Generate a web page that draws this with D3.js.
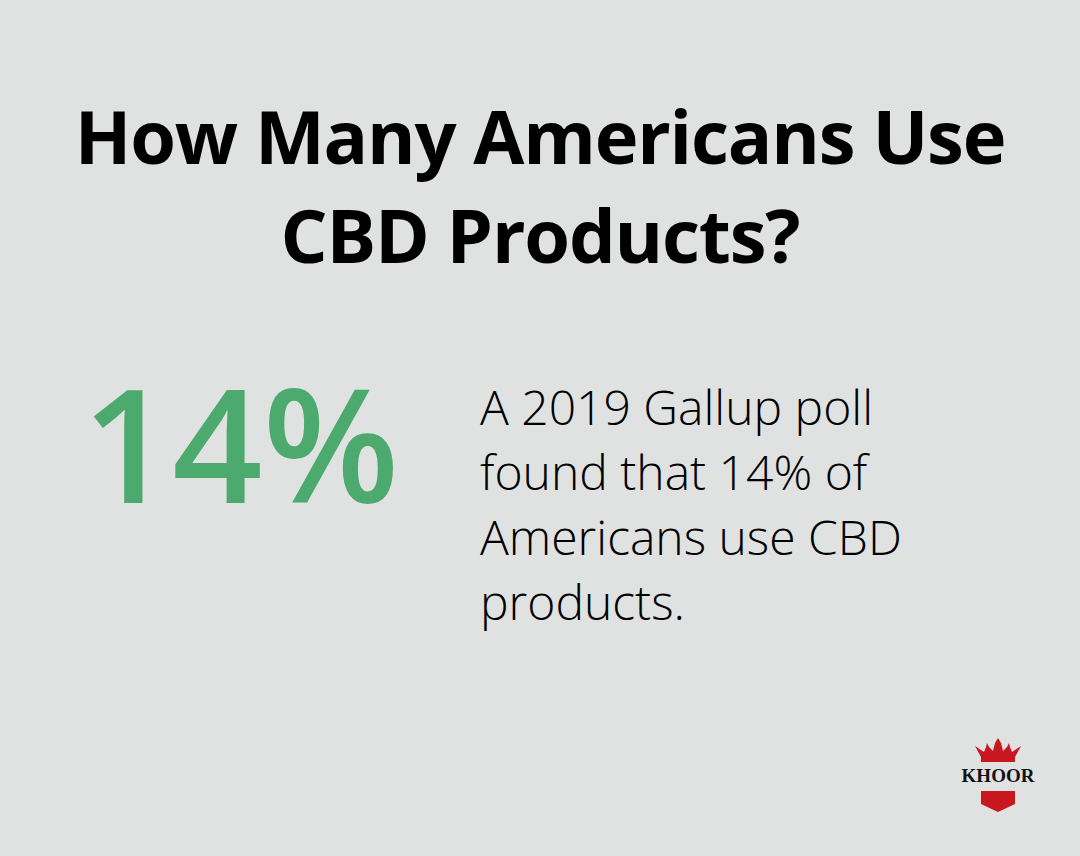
<!DOCTYPE html>
<html>
<head>
<meta charset="utf-8">
<script src="https://cdn.jsdelivr.net/npm/d3@7"></script>
<style>
  html, body { margin: 0; padding: 0; background: #e0e2e1; }
  svg { display: block; }
</style>
</head>
<body>
<div id="chart"></div>
<script>
// Content of the card
const titleLines = ["How Many Americans Use", "CBD Products?"];
const statValue = 14;
const statSuffix = "%";
const bodyLines = ["A 2019 Gallup poll", "found that 14% of", "Americans use CBD", "products."];
const brandName = "KHOOR";

const width = 1080, height = 856;

const svg = d3.select("#chart")
    .append("svg")
    .attr("width", width)
    .attr("height", height);

svg.append("rect")
    .attr("width", width)
    .attr("height", height)
    .attr("fill", "#e0e2e1");

// Title
const titleY = d3.scalePoint().domain(d3.range(titleLines.length)).range([164, 263]);
svg.append("g").selectAll("text")
    .data(titleLines)
    .join("text")
    .attr("x", width / 2)
    .attr("y", (d, i) => titleY(i))
    .attr("text-anchor", "middle")
    .attr("font-family", "'Open Sans', sans-serif")
    .attr("font-weight", 700)
    .attr("font-size", 74)
    .attr("letter-spacing", -1.2)
    .attr("fill", "#000")
    .text(d => d);

// Big stat
svg.append("text")
    .attr("x", 82)
    .attr("y", 503)
    .attr("font-family", "'Open Sans', sans-serif")
    .attr("font-weight", 600)
    .attr("font-size", 158)
    .attr("fill", "#4caa6e")
    .text(d3.format("d")(statValue) + statSuffix);

// Body text
const bodyY = d3.scaleLinear().domain([0, bodyLines.length - 1]).range([425, 620]);
svg.append("g").selectAll("text")
    .data(bodyLines)
    .join("text")
    .attr("x", 480)
    .attr("y", (d, i) => bodyY(i))
    .attr("font-family", "'Open Sans', sans-serif")
    .attr("font-weight", 300)
    .attr("font-size", 48)
    .attr("fill", "#000")
    .text(d => d);

// Logo
const logo = svg.append("g").attr("transform", "translate(998, 0)");
logo.append("path")
    .attr("d", "M-23,746 L-14,752 L-12,747 L-11,743 L-9,747 L-5,751 L-3,743 L0,738 L3,743 L5,751 L9,747 L11,743 L12,747 L14,752 L23,746 L17,757 L17,762 L-17,762 L-17,757 Z")
    .attr("fill", "#c8171e");
logo.append("text")
    .attr("x", 0)
    .attr("y", 782)
    .attr("text-anchor", "middle")
    .attr("font-family", "'Liberation Serif', 'DejaVu Serif', serif")
    .attr("font-weight", 700)
    .attr("font-size", 19)
    .attr("fill", "#111")
    .text(brandName);
logo.append("path")
    .attr("d", "M-17,791 L17,791 L17,804 L0,812 L-17,804 Z")
    .attr("fill", "#c8171e");
</script>
</body>
</html>
